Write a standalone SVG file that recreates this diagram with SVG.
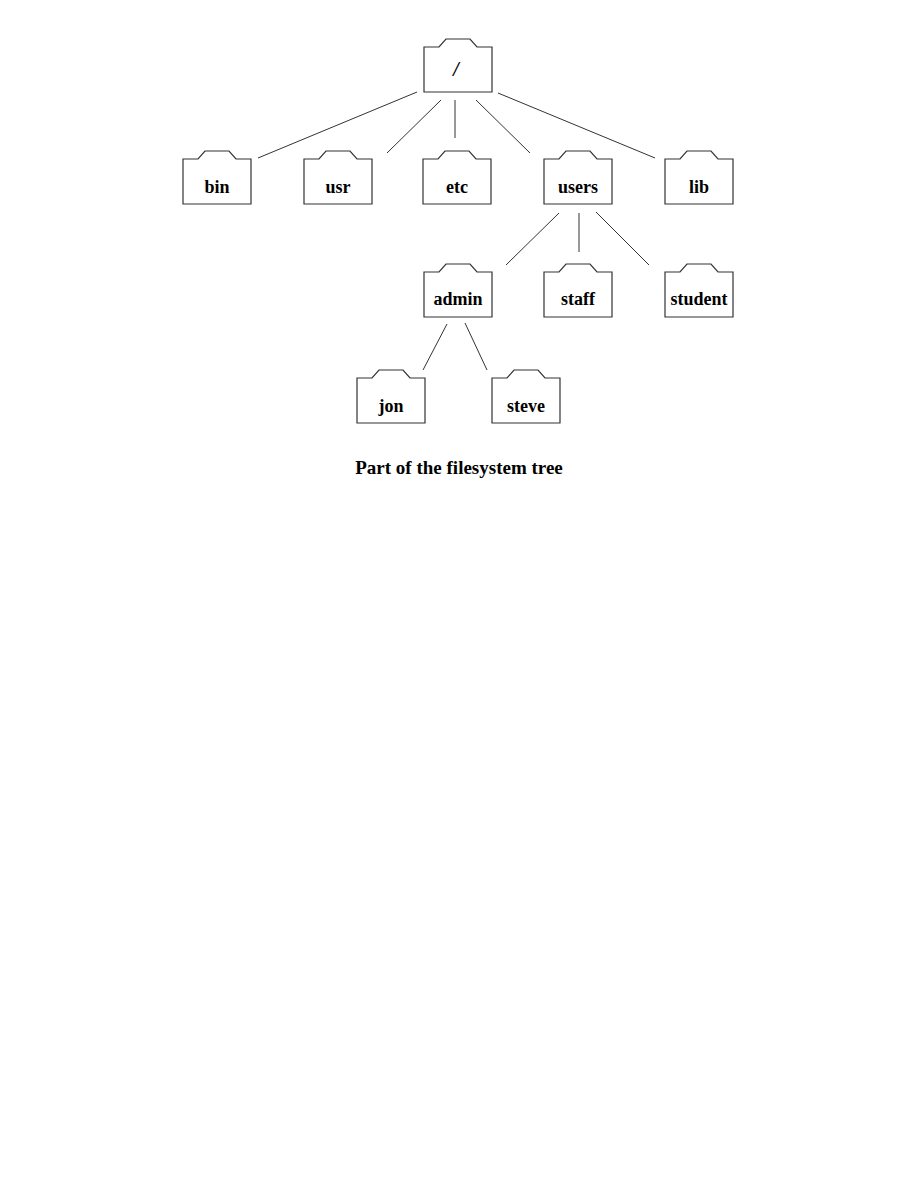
<svg xmlns="http://www.w3.org/2000/svg" width="918" height="1188" viewBox="0 0 918 1188">
<defs>
<style>
.f{fill:#fff;stroke:#333;stroke-width:1.2}
.t{font-family:"Liberation Serif",serif;font-weight:bold;font-size:18px;text-anchor:middle;fill:#000}
.c line{stroke:#333;stroke-width:1}
</style>
<path id="folder" class="f" d="M0,0 H15 L22,-8 H46 L53,0 H68 V45 H0 Z"/>
</defs>
<rect width="918" height="1188" fill="#fff"/>
<g class="c" id="connectors">
<line x1="417" y1="92" x2="258" y2="158"/>
<line x1="441" y1="100" x2="387" y2="153"/>
<line x1="455" y1="100" x2="455" y2="138"/>
<line x1="476" y1="100" x2="530" y2="153"/>
<line x1="498" y1="93" x2="655" y2="158"/>
<line x1="559" y1="213" x2="506" y2="265"/>
<line x1="579" y1="213" x2="579" y2="252"/>
<line x1="596" y1="212" x2="649" y2="265"/>
<line x1="447" y1="324" x2="423" y2="370"/>
<line x1="465" y1="323" x2="487" y2="370"/>
</g>
<g id="root"><use href="#folder" x="424" y="47"/><text class="t" x="456" y="76" style="font-style:italic;font-size:20px">/</text></g>
<g id="bin"><use href="#folder" x="183" y="159"/><text class="t" x="217" y="193">bin</text></g>
<g id="usr"><use href="#folder" x="304" y="159"/><text class="t" x="338" y="193">usr</text></g>
<g id="etc"><use href="#folder" x="423" y="159"/><text class="t" x="457" y="193">etc</text></g>
<g id="users"><use href="#folder" x="544" y="159"/><text class="t" x="578" y="193">users</text></g>
<g id="lib"><use href="#folder" x="665" y="159"/><text class="t" x="699" y="193">lib</text></g>
<g id="admin"><use href="#folder" x="424" y="272"/><text class="t" x="458" y="305">admin</text></g>
<g id="staff"><use href="#folder" x="544" y="272"/><text class="t" x="578" y="305">staff</text></g>
<g id="student"><use href="#folder" x="665" y="272"/><text class="t" x="699" y="305">student</text></g>
<g id="jon"><use href="#folder" x="357" y="378"/><text class="t" x="391" y="412">jon</text></g>
<g id="steve"><use href="#folder" x="492" y="378"/><text class="t" x="526" y="412">steve</text></g>
<text class="t" x="459" y="474" style="font-size:19px">Part of the filesystem tree</text>
</svg>
